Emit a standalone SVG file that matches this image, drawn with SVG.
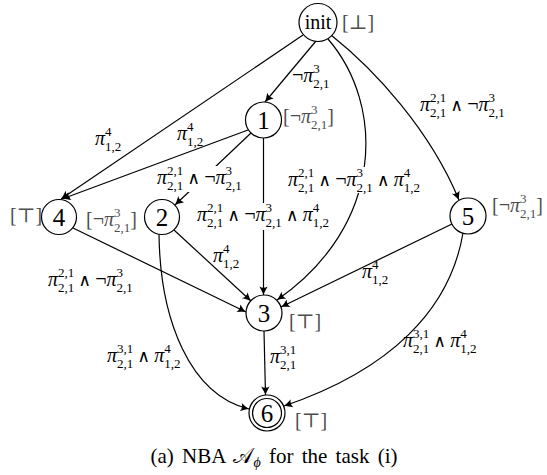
<svg xmlns="http://www.w3.org/2000/svg" width="547" height="475" viewBox="0 0 547 475">
<defs>
<marker id="arr" markerWidth="12" markerHeight="12" viewBox="-10 -6 12 12" refX="0" refY="0" orient="auto" markerUnits="userSpaceOnUse">
<path d="M0,0 C-2.5,-0.8 -5.5,-2.5 -8.5,-4.2 C-6.8,-1.5 -6.8,1.5 -8.5,4.2 C-5.5,2.5 -2.5,0.8 0,0 Z" fill="#000"/>
</marker>
<style>
.e{fill:none;stroke:#000;stroke-width:1.2;marker-end:url(#arr)}
.n{fill:#fff;stroke:#000;stroke-width:1.2}
.t{font-family:"Liberation Serif","DejaVu Serif",serif;fill:#000}
.d{font-size:25px;text-anchor:middle}
.lb{font-size:20px}
.g{fill:#4d4d4d}
.pi{font-style:italic}
.s{font-size:13px}
.op{font-size:17px}
.bg{fill:#fff}
</style>
</defs>
<rect width="547" height="475" fill="#fff"/>
<g id="connectors">
<path class="e" d="M316,41 L265,102"/>
<path class="e" d="M303,35 L61,199"/>
<path class="e" d="M248,130 L62,199"/>
<path class="e" d="M251,133 L175,205"/>
<path class="e" d="M263.5,138 L263.5,295"/>
<path class="e" d="M328,39 C385,105 385,225 277,300"/>
<path class="e" d="M331,35 C375,70 430,130 459,200"/>
<path class="e" d="M73,228 L246,312"/>
<path class="e" d="M174,230 L251,301"/>
<path class="e" d="M452,224 L281,307"/>
<path class="e" d="M159,234 C160,320 190,395 249,409"/>
<path class="e" d="M264,331 L265.5,395"/>
<path class="e" d="M463,233 C450,310 390,370 284,406"/>
<rect class="bg" x="155" y="166" width="99" height="26"/>
<rect class="bg" x="195" y="203" width="147" height="27"/>
<rect class="bg" x="286" y="167" width="149" height="26"/>
<text class="t lb" x="292" y="82">¬<tspan class="pi">π</tspan><tspan class="s" dy="-9">3</tspan><tspan class="s" dx="-6.5" dy="14.5">2,1</tspan></text>
<text class="t lb" x="95" y="145"><tspan class="pi">π</tspan><tspan class="s" dy="-9">4</tspan><tspan class="s" dx="-6.5" dy="14.5">1,2</tspan></text>
<text class="t lb" x="177" y="140"><tspan class="pi">π</tspan><tspan class="s" dy="-9">4</tspan><tspan class="s" dx="-6.5" dy="14.5">1,2</tspan></text>
<text class="t lb" x="157" y="184"><tspan class="pi">π</tspan><tspan class="s" dy="-9">2,1</tspan><tspan class="s" dx="-16.25" dy="14.5">2,1</tspan><tspan class="op" dy="-5.5"> ∧ </tspan>¬<tspan class="pi">π</tspan><tspan class="s" dy="-9">3</tspan><tspan class="s" dx="-6.5" dy="14.5">2,1</tspan></text>
<text class="t lb" x="197" y="221"><tspan class="pi">π</tspan><tspan class="s" dy="-9">2,1</tspan><tspan class="s" dx="-16.25" dy="14.5">2,1</tspan><tspan class="op" dy="-5.5"> ∧ </tspan>¬<tspan class="pi">π</tspan><tspan class="s" dy="-9">3</tspan><tspan class="s" dx="-6.5" dy="14.5">2,1</tspan><tspan class="op" dy="-5.5"> ∧ </tspan><tspan class="pi">π</tspan><tspan class="s" dy="-9">4</tspan><tspan class="s" dx="-6.5" dy="14.5">1,2</tspan></text>
<text class="t lb" x="288" y="186"><tspan class="pi">π</tspan><tspan class="s" dy="-9">2,1</tspan><tspan class="s" dx="-16.25" dy="14.5">2,1</tspan><tspan class="op" dy="-5.5"> ∧ </tspan>¬<tspan class="pi">π</tspan><tspan class="s" dy="-9">3</tspan><tspan class="s" dx="-6.5" dy="14.5">2,1</tspan><tspan class="op" dy="-5.5"> ∧ </tspan><tspan class="pi">π</tspan><tspan class="s" dy="-9">4</tspan><tspan class="s" dx="-6.5" dy="14.5">1,2</tspan></text>
<text class="t lb" x="420" y="111"><tspan class="pi">π</tspan><tspan class="s" dy="-9">2,1</tspan><tspan class="s" dx="-16.25" dy="14.5">2,1</tspan><tspan class="op" dy="-5.5"> ∧ </tspan>¬<tspan class="pi">π</tspan><tspan class="s" dy="-9">3</tspan><tspan class="s" dx="-6.5" dy="14.5">2,1</tspan></text>
<text class="t lb" x="48" y="286"><tspan class="pi">π</tspan><tspan class="s" dy="-9">2,1</tspan><tspan class="s" dx="-16.25" dy="14.5">2,1</tspan><tspan class="op" dy="-5.5"> ∧ </tspan>¬<tspan class="pi">π</tspan><tspan class="s" dy="-9">3</tspan><tspan class="s" dx="-6.5" dy="14.5">2,1</tspan></text>
<text class="t lb" x="213" y="262"><tspan class="pi">π</tspan><tspan class="s" dy="-9">4</tspan><tspan class="s" dx="-6.5" dy="14.5">1,2</tspan></text>
<text class="t lb" x="362" y="278"><tspan class="pi">π</tspan><tspan class="s" dy="-9">4</tspan><tspan class="s" dx="-6.5" dy="14.5">1,2</tspan></text>
<text class="t lb" x="107" y="362"><tspan class="pi">π</tspan><tspan class="s" dy="-9">3,1</tspan><tspan class="s" dx="-16.25" dy="14.5">2,1</tspan><tspan class="op" dy="-5.5"> ∧ </tspan><tspan class="pi">π</tspan><tspan class="s" dy="-9">4</tspan><tspan class="s" dx="-6.5" dy="14.5">1,2</tspan></text>
<text class="t lb" x="270" y="363"><tspan class="pi">π</tspan><tspan class="s" dy="-9">3,1</tspan><tspan class="s" dx="-16.25" dy="14.5">2,1</tspan></text>
<text class="t lb" x="403" y="347"><tspan class="pi">π</tspan><tspan class="s" dy="-9">3,1</tspan><tspan class="s" dx="-16.25" dy="14.5">2,1</tspan><tspan class="op" dy="-5.5"> ∧ </tspan><tspan class="pi">π</tspan><tspan class="s" dy="-9">4</tspan><tspan class="s" dx="-6.5" dy="14.5">1,2</tspan></text>
</g>
<g id="node-init">
<circle class="n" cx="318" cy="22.5" r="19"/>
<text class="t lb" x="318" y="29" text-anchor="middle">init</text>
<text class="t lb g" x="342" y="29">[⊥]</text>
</g>
<g id="node-1">
<circle class="n" cx="263.5" cy="120" r="18"/>
<text class="t d" x="263.5" y="128.5">1</text>
<text class="t lb g" x="283" y="123">[¬<tspan class="pi">π</tspan><tspan class="s" dy="-9">3</tspan><tspan class="s" dx="-6.5" dy="14.5">2,1</tspan><tspan dy="-5.5">]</tspan></text>
</g>
<g id="node-4">
<circle class="n" cx="59" cy="217" r="17.5"/>
<text class="t d" x="59" y="225.5">4</text>
<text class="t lb g" x="10" y="222">[⊤]</text>
<text class="t lb g" x="86" y="226">[¬<tspan class="pi">π</tspan><tspan class="s" dy="-9">3</tspan><tspan class="s" dx="-6.5" dy="14.5">2,1</tspan><tspan dy="-5.5">]</tspan></text>
</g>
<g id="node-2">
<circle class="n" cx="162" cy="217" r="17.5"/>
<text class="t d" x="162" y="225.5">2</text>
</g>
<g id="node-5">
<circle class="n" cx="468" cy="216" r="18"/>
<text class="t d" x="468" y="224.5">5</text>
<text class="t lb g" x="492" y="212">[¬<tspan class="pi">π</tspan><tspan class="s" dy="-9">3</tspan><tspan class="s" dx="-6.5" dy="14.5">2,1</tspan><tspan dy="-5.5">]</tspan></text>
</g>
<g id="node-3">
<circle class="n" cx="264" cy="313" r="18"/>
<text class="t d" x="264" y="321.5">3</text>
<text class="t lb g" x="289" y="328">[⊤]</text>
</g>
<g id="node-6">
<circle class="n" cx="267" cy="413" r="18"/>
<circle class="n" cx="267" cy="413" r="14.5"/>
<text class="t d" x="267" y="421.5">6</text>
<text class="t lb g" x="295" y="427">[⊤]</text>
</g>
<text class="t" x="274" y="463" font-size="21" text-anchor="middle" word-spacing="3">(a) NBA 𝒜<tspan font-size="14" dy="4" class="pi">ϕ</tspan><tspan dy="-4"> for the task (i)</tspan></text>
</svg>
